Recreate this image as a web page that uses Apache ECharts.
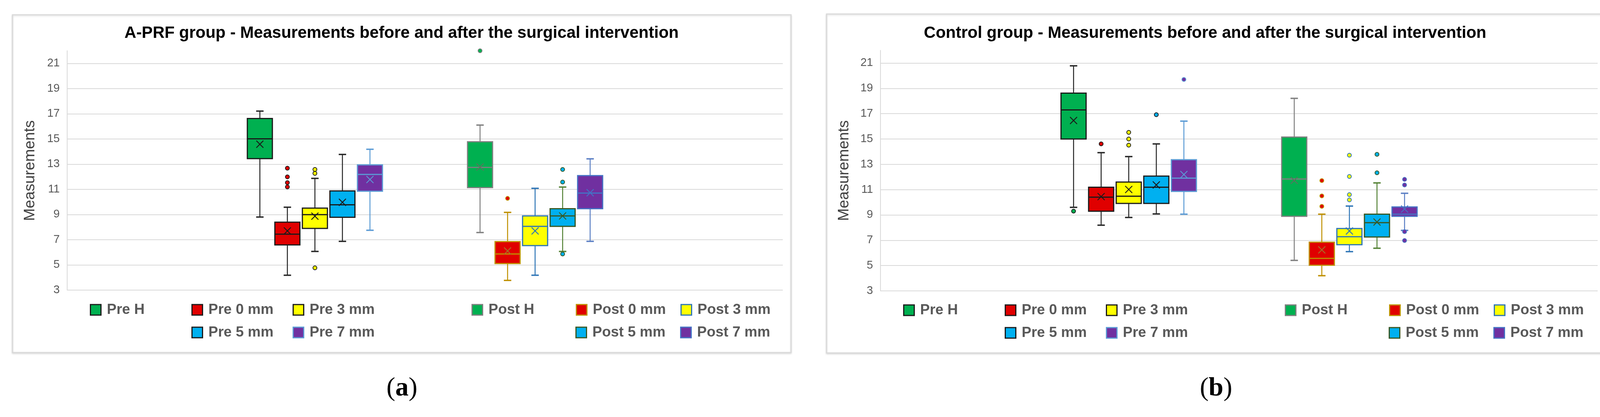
<!DOCTYPE html>
<html>
<head>
<meta charset="utf-8">
<script src="https://cdn.jsdelivr.net/npm/echarts@6/dist/echarts.min.js"></script>
<style>
html,body{margin:0;padding:0;background:#fff;}
#chart{width:4135px;height:1068px;}
</style>
</head>
<body>
<div id="chart"></div>
<script>
// ---------------- DATA ----------------
const seriesNames = ['Pre H','Pre 0 mm','Pre 3 mm','Pre 5 mm','Pre 7 mm','Post H','Post 0 mm','Post 3 mm','Post 5 mm','Post 7 mm'];
const panelTitles = [
  'A-PRF group - Measurements before and after the surgical intervention',
  'Control group - Measurements before and after the surgical intervention'
];
const panelLabels = ['a', 'b'];
const yAxisName = 'Measurements';
const yTicks = { min: 3, max: 22, interval: 2 };

// box stats: [min, q1, median, q3, max, mean]
const aprfBoxes = [
  [8.80, 13.44, 15.01, 16.62, 17.21, 14.58],
  [4.18, 6.59, 7.44, 8.39, 9.58, 7.70],
  [6.07, 7.90, 8.99, 9.51, 11.87, 8.87],
  [6.87, 8.78, 9.77, 10.87, 13.77, 9.97],
  [7.75, 10.85, 12.18, 12.94, 14.18, 11.78],
  [7.57, 11.14, 12.74, 14.78, 16.10, 12.77],
  [3.77, 5.11, 5.87, 6.85, 9.17, 6.11],
  [4.18, 6.53, 8.06, 8.89, 11.08, 7.70],
  [6.07, 8.06, 8.89, 9.46, 11.18, 8.89],
  [6.87, 9.46, 10.70, 12.09, 13.42, 10.73]
];
const aprfOutliers = [
  [],
  [12.68, 11.99, 11.53, 11.19],
  [12.58, 12.27, 4.77],
  [],
  [],
  [22.0],
  [10.28],
  [],
  [12.58, 11.58, 5.87],
  []
];
const controlBoxes = [
  [9.60, 15.00, 17.30, 18.62, 20.78, 16.46],
  [8.19, 9.29, 10.40, 11.19, 13.92, 10.45],
  [8.80, 9.91, 10.48, 11.60, 13.61, 11.01],
  [9.08, 9.91, 11.19, 12.07, 14.61, 11.37],
  [9.06, 10.86, 11.91, 13.36, 16.41, 12.19],
  [5.41, 8.89, 11.84, 15.15, 18.21, 11.73],
  [4.20, 5.03, 5.57, 6.85, 9.06, 6.24],
  [6.10, 6.65, 7.28, 7.93, 9.70, 7.73],
  [6.37, 7.26, 8.39, 9.06, 11.53, 8.44],
  [7.78, 8.89, 9.06, 9.63, 10.71, 9.47]
];
const controlOutliers = [
  [9.30],
  [14.61],
  [15.52, 15.00, 14.51],
  [16.92],
  [19.70],
  [],
  [11.71, 10.50, 9.68],
  [13.72, 12.04, 10.60, 10.19],
  [13.79, 12.33],
  [11.81, 11.37, 7.68, 6.98]
];

// ---------------- STYLES ----------------
const styles = {
  'Pre H':     {fill:'#00b050', border:'#1a1a1a', whisker:'#262626', mean:'#1a1a1a'},
  'Pre 0 mm':  {fill:'#e00000', border:'#1a1a1a', whisker:'#262626', mean:'#1a1a1a'},
  'Pre 3 mm':  {fill:'#ffff00', border:'#1a1a1a', whisker:'#262626', mean:'#1a1a1a'},
  'Pre 5 mm':  {fill:'#00b0f0', border:'#1a1a1a', whisker:'#262626', mean:'#1a1a1a'},
  'Pre 7 mm':  {fill:'#7030a0', border:'#5b9bd5', whisker:'#5b9bd5', mean:'#5b9bd5'},
  'Post H':    {fill:'#00b050', border:'#7f7f7f', whisker:'#808080', mean:'#5f6f60'},
  'Post 0 mm': {fill:'#e00000', border:'#bf9000', whisker:'#bf9000', mean:'#a5752a'},
  'Post 3 mm': {fill:'#ffff00', border:'#2e75b6', whisker:'#2e75b6', mean:'#2e75b6'},
  'Post 5 mm': {fill:'#00b0f0', border:'#385723', whisker:'#548235', mean:'#385723'},
  'Post 7 mm': {fill:'#7030a0', border:'#4472c4', whisker:'#5b7fc4', mean:'#4472c4'}
};
const FONT = 'Liberation Sans';
const GROUP_START = [7, 15];   // slot of first box in Pre / Post group
const X_SLOTS = 26;

const grids = [
  {left:172, top:130, width:1832, height:613},
  {left:2254, top:129, width:1836, height:616}
];
const panels = [
  {x:32, y:38, w:1993, h:865, titleX:1028, labelX:1029},
  {x:2116, y:36, w:1995, h:868, titleX:3085, labelX:3113}
];
const legendOffsets = {
  'Pre H':[58,0], 'Pre 0 mm':[318,0], 'Pre 3 mm':[577,0],
  'Post H':[1035,0], 'Post 0 mm':[1302,0], 'Post 3 mm':[1570,0],
  'Pre 5 mm':[318,1], 'Pre 7 mm':[577,1], 'Post 5 mm':[1301,1], 'Post 7 mm':[1569,1]
};
const legendRowTop = [[775,833],[776,834]];

function slotOf(i){ return GROUP_START[Math.floor(i/5)] + (i % 5); }

function makeRender(st){
  return function(params, api){
    const x = api.value(0);
    const c = v => api.coord([x, v]);
    const cx = c(api.value(3))[0];
    const yMin = c(api.value(1))[1], yQ1 = c(api.value(2))[1], yMed = c(api.value(3))[1];
    const yQ3 = c(api.value(4))[1], yMax = c(api.value(5))[1], yMean = c(api.value(6))[1];
    const bw = api.size([1, 0])[0] * 0.91;
    const cap = 9.5, xs = 9;
    const line = (x1,y1,x2,y2,color,w) => ({type:'line', shape:{x1,y1,x2,y2}, style:{stroke:color, lineWidth:w}});
    return {type:'group', children:[
      line(cx, yQ3, cx, yMax, st.whisker, 2.5),
      line(cx, yQ1, cx, yMin, st.whisker, 2.5),
      line(cx-cap, yMax, cx+cap, yMax, st.whisker, 3.5),
      line(cx-cap, yMin, cx+cap, yMin, st.whisker, 3.5),
      {type:'rect', shape:{x:cx-bw/2, y:yQ3, width:bw, height:yQ1-yQ3}, style:{fill:st.fill, stroke:st.border, lineWidth:3}},
      line(cx-bw/2, yMed, cx+bw/2, yMed, st.border, 3),
      line(cx-xs, yMean-xs, cx+xs, yMean+xs, st.mean, 2.2),
      line(cx-xs, yMean+xs, cx+xs, yMean-xs, st.mean, 2.2)
    ]};
  };
}

const series = [];
const legends = [];
const titles = [];
const graphics = [];
const xAxes = [], yAxes = [];

[ [aprfBoxes, aprfOutliers], [controlBoxes, controlOutliers] ].forEach(([boxes, outs], p) => {
  xAxes.push({gridIndex:p, type:'value', min:0, max:X_SLOTS, show:false});
  yAxes.push({
    gridIndex:p, type:'value', min:yTicks.min, max:yTicks.max, interval:yTicks.interval,
    axisLine:{show:true, lineStyle:{color:'#d9d9d9', width:2}},
    axisTick:{show:false},
    axisLabel:{fontFamily:FONT, fontSize:29, color:'#595959', margin:19, showMaxLabel:false},
    splitLine:{show:true, showMaxLine:false, lineStyle:{color:'#d9d9d9', width:2}}
  });
  seriesNames.forEach((name, i) => {
    const st = styles[name];
    series.push({
      type:'custom', name, xAxisIndex:p, yAxisIndex:p,
      renderItem: makeRender(st),
      encode:{x:0, y:[1,2,3,4,5,6]},
      itemStyle:{color:st.fill},
      data:[[slotOf(i)].concat(boxes[i])],
      z:3
    });
    if (outs[i].length) {
      series.push({
        type:'scatter', name, xAxisIndex:p, yAxisIndex:p,
        symbol:'circle', symbolSize:10,
        itemStyle:{color:st.fill, borderColor:st.border, borderWidth:2, opacity:1},
        data: outs[i].map(v => [slotOf(i), v]),
        z:4
      });
    }
    const [off, row] = legendOffsets[name];
    legends.push({
      left: grids[p].left + off, top: legendRowTop[p][row],
      padding:0, itemWidth:27, itemHeight:27, selectedMode:false,
      icon:'rect',
      data:[{name, icon:'rect', itemStyle:{color:st.fill, borderColor:st.border, borderWidth:3}}],
      textStyle:{fontFamily:FONT, fontSize:37, fontWeight:'bold', color:'#595959', lineHeight:28, padding:[0,0,0,10]}
    });
  });
  titles.push({
    text: panelTitles[p], left: panels[p].titleX, top: 64, textAlign:'center', padding:0,
    textStyle:{fontFamily:FONT, fontSize:42, fontWeight:'bold', color:'#000'}
  });
  graphics.push({
    type:'rect', z:-10,
    shape:{x:panels[p].x, y:panels[p].y, width:panels[p].w, height:panels[p].h},
    style:{fill:'#fff', stroke:'#d9d9d9', lineWidth:3, shadowBlur:4, shadowColor:'rgba(0,0,0,0.12)', shadowOffsetY:2}
  });
  graphics.push({
    type:'text', z:10, x: 77 + (p ? 2084 : 0), y: 437, rotation: Math.PI/2,
    style:{text:yAxisName, font:'39px "' + FONT + '"', fill:'#404040', align:'center', verticalAlign:'middle'}
  });
  graphics.push({
    type:'text', z:10, x: panels[p].labelX, y: 995,
    style:{
      text:'(' + '{b|' + panelLabels[p] + '})', fill:'#000', align:'center', verticalAlign:'middle',
      font:'68px "Liberation Serif"',
      rich:{b:{fontFamily:'Liberation Serif', fontSize:68, fontWeight:'bold', fill:'#000'}}
    }
  });
});

const chart = echarts.init(document.getElementById('chart'), null, {renderer:'canvas'});
chart.setOption({
  backgroundColor:'#fff',
  animation:false,
  title: titles,
  legend: legends,
  grid: grids,
  xAxis: xAxes,
  yAxis: yAxes,
  graphic: graphics,
  series
});
</script>
</body>
</html>
